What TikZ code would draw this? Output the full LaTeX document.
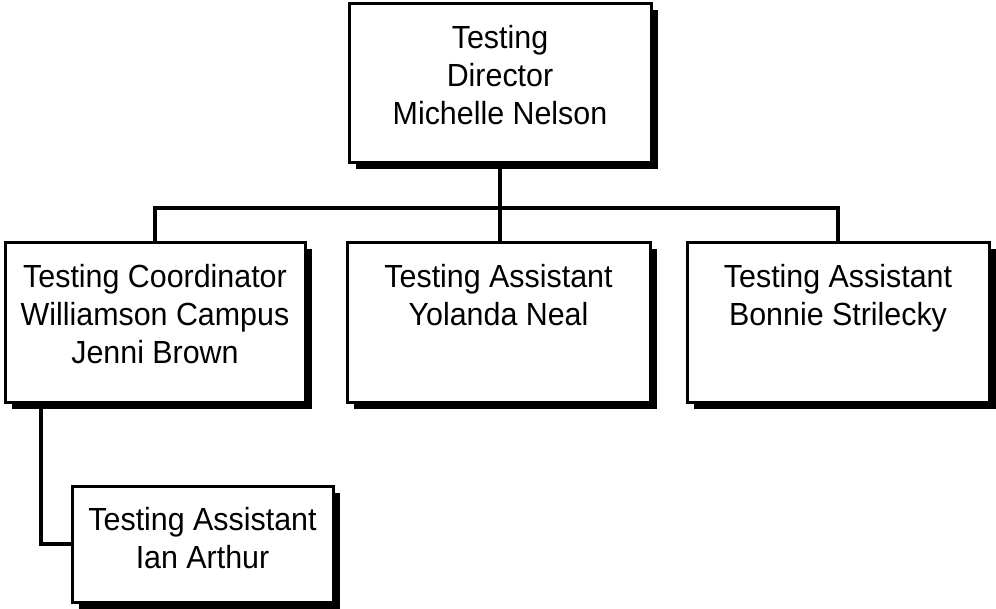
\documentclass[tikz,border=0pt]{standalone}
\usepackage{fontspec}
\setmainfont[FakeStretch=0.95]{Liberation Sans}
\usetikzlibrary{calc, shadows, backgrounds}
\tikzset{orgbox/.style = {draw, line width=3pt, fill=white, anchor=north west, inner sep=0pt, outer sep=0pt, drop shadow={shadow xshift=6.5pt, shadow yshift=-6.5pt, fill=black, opacity=1}}}
\tikzset{link/.style = {line width=3.4pt}}
\newcommand{\boxText}[3]{\parbox[c][#2pt][t]{#1pt}{\centering\vspace*{21pt}#3}}

\begin{document}
\begin{tikzpicture}[x=1pt, y=-1pt, font=\fontsize{32}{38.3}\selectfont]
	\useasboundingbox (0,0) rectangle (996,609);

	\node[orgbox] (dir)    at (349,4)   {\boxText{302}{159}{Testing\\Director\\Michelle Nelson}};
	\node[orgbox] (coord)  at (5,243)   {\boxText{300}{160}{Testing Coordinator\\Williamson Campus\\Jenni Brown}};
	\node[orgbox] (neal)   at (347,243) {\boxText{303}{160}{Testing Assistant\\Yolanda Neal}};
	\node[orgbox] (bonnie) at (687,243) {\boxText{302}{160}{Testing Assistant\\Bonnie Strilecky}};
	\node[orgbox] (ian)    at (72,486)  {\boxText{261}{116}{Testing Assistant\\Ian Arthur}};

	\coordinate (fork) at (dir.south |- 0,208);

	\begin{scope}[on background layer]
		\draw[link]	(dir.south) -- (fork);
		\draw[link]	(fork) -| (coord.north);
		\draw[link]	(fork) -| (bonnie.north);
		\draw[link]	(fork) -- (fork |- neal.north);
		\draw[link]	($(coord.south west)+(36,0)$) |- (ian.west);
	\end{scope}
\end{tikzpicture}
\end{document}
